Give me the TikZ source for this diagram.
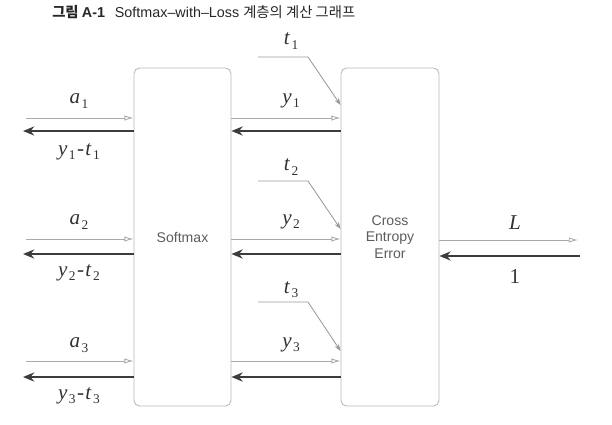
\documentclass[tikz,border=0pt]{standalone}
\usepackage{fontspec}
\setmainfont{Liberation Serif}
\setsansfont{Liberation Sans}
\newfontfamily\cjk{Noto Sans CJK KR}
\usetikzlibrary{arrows.meta}
\definecolor{boxgray}{HTML}{B8B8B8}
\definecolor{fwdgray}{HTML}{AAAAAA}
\definecolor{bwdgray}{HTML}{3C3C3C}
\definecolor{txtgray}{HTML}{333333}
\newcommand{\vsub}[2]{\textit{#1}\kern1pt\raisebox{-3pt}{\fontsize{9.5}{10}\selectfont #2}}
\tikzset{
  box/.style={draw=boxgray, rounded corners=4pt, line width=0.6pt, font=\sffamily\fontsize{10}{11.8}\selectfont, text=txtgray!80, align=center},
  fwd/.style={draw=fwdgray, line width=0.6pt, -{Latex[open,length=6.5pt,width=3.8pt]}},
  bwd/.style={draw=bwdgray, line width=2pt, -{Stealth[length=8pt,width=6.5pt]}},
  tline/.style={draw=fwdgray!90!black, line width=0.6pt, -{Stealth[length=5pt,width=3.5pt]}},
  lbl/.style={text=txtgray, font=\fontsize{15}{18}\selectfont}
}
\begin{document}
\begin{tikzpicture}[x=0.025cm, y=-0.025cm]
\useasboundingbox (0,0) rectangle (612,424);
% title
\node[anchor=west, text=black!85, inner sep=0pt] (title) at (52,12) {\sffamily\fontsize{10.2}{12}\selectfont{\bfseries\cjk 그림 \sffamily A-1}\hspace{7pt}Softmax\textendash with\textendash Loss {\cjk 계층의 계산 그래프}};
% boxes
\node[box, minimum width=2.425cm, minimum height=8.45cm] (sm) at (182.5,237) {Softmax};
\node[box, minimum width=2.45cm, minimum height=8.45cm] (ce) at (390,237) {Cross\\Entropy\\Error};
% free ends
\coordinate (l1) at (26,118);
\coordinate (k1) at (23,131);
\coordinate (l2) at (26,239);
\coordinate (k2) at (23,254);
\coordinate (l3) at (26,361);
\coordinate (k3) at (23,377);
\coordinate (lo) at (578,240);
\coordinate (ko) at (580,256);
\coordinate (t1s) at (258,57);
\coordinate (t1b) at (308,57);
\coordinate (t2s) at (258,181);
\coordinate (t2b) at (308,181);
\coordinate (t3s) at (258,302);
\coordinate (t3b) at (308,302);
% forward
\begin{scope}[every edge/.style={fwd}]
  \path (l1) edge (sm.west |- l1);
  \path (l2) edge (sm.west |- l2);
  \path (l3) edge (sm.west |- l3);
  \path (sm.east |- l1) edge (ce.west |- l1);
  \path (sm.east |- l2) edge (ce.west |- l2);
  \path (sm.east |- l3) edge (ce.west |- l3);
  \path (ce.east |- lo) edge (lo);
\end{scope}
% backward
\begin{scope}[every edge/.style={bwd}]
  \path (sm.west |- k1) edge (k1);
  \path (sm.west |- k2) edge (k2);
  \path (sm.west |- k3) edge (k3);
  \path (ce.west |- k1) edge (sm.east |- k1);
  \path (ce.west |- k2) edge (sm.east |- k2);
  \path (ce.west |- k3) edge (sm.east |- k3);
  \path (ko) edge (ce.east |- ko);
\end{scope}
% teacher labels
\draw[tline] (t1s) -- (t1b) -- (ce.west |- 0,105);
\draw[tline] (t2s) -- (t2b) -- (ce.west |- 0,229);
\draw[tline] (t3s) -- (t3b) -- (ce.west |- 0,351);
% labels
\begin{scope}[every node/.style={lbl}]
  \node (a1) at (79,101) {\vsub{a}{1}};
  \node (a2) at (79,222) {\vsub{a}{2}};
  \node (a3) at (79,345) {\vsub{a}{3}};
  \node (d1) at (79,152) {\vsub{y}{1}\kern1pt-\kern1pt\vsub{t}{1}};
  \node (d2) at (79,273) {\vsub{y}{2}\kern1pt-\kern1pt\vsub{t}{2}};
  \node (d3) at (79,396) {\vsub{y}{3}\kern1pt-\kern1pt\vsub{t}{3}};
  \node (y1) at (291,101) {\vsub{y}{1}};
  \node (y2) at (291,222) {\vsub{y}{2}};
  \node (y3) at (291,345) {\vsub{y}{3}};
  \node (tt1) at (291,41) {\vsub{t}{1}};
  \node (tt2) at (291,167) {\vsub{t}{2}};
  \node (tt3) at (291,290) {\vsub{t}{3}};
  \node (L) at (515,223) {\textit{L}};
  \node (one) at (515,277) {1};
\end{scope}
\end{tikzpicture}
\end{document}
